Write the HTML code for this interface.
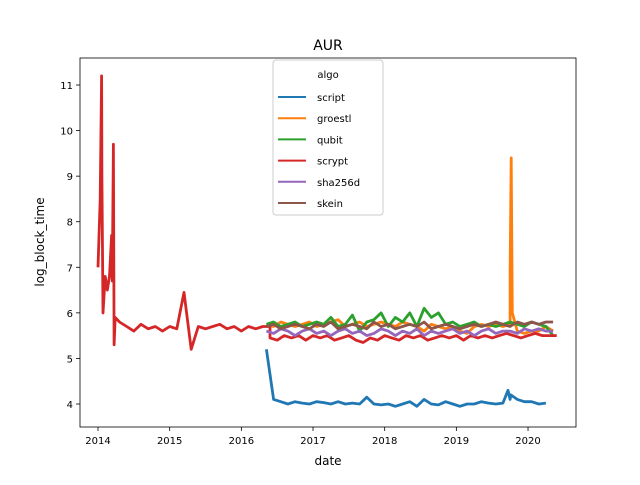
<!DOCTYPE html>
<html><head><meta charset="utf-8"><style>
body{margin:0;background:#fff;}
svg text{font-family:"DejaVu Sans","Liberation Sans",sans-serif;}
</style></head><body>
<svg id="chart" width="640" height="480" xmlns="http://www.w3.org/2000/svg">
<rect width="640" height="480" fill="#fff"/>
<text x="328" y="50" font-size="14" text-anchor="middle">AUR</text>
<g id="plot"></g>
<rect x="80" y="58" width="496" height="369" fill="none" stroke="#000" stroke-width="0.8"/>
<g id="axes"></g>
<text x="328" y="465" font-size="12" text-anchor="middle">date</text>
<text transform="translate(44,242) rotate(-90)" font-size="12" text-anchor="middle">log_block_time</text>
<g id="legend"></g>
</svg>
<script>
const xTicks=[2014,2015,2016,2017,2018,2019,2020];
const yTicks=[4,5,6,7,8,9,10,11];
const seriesNames=["script","groestl","qubit","scrypt","sha256d","skein"];
const seriesColors=["#1f77b4","#ff7f0e","#2ca02c","#d62728","#9467bd","#8c564b"];
const scryptEarlyDates=[2014.0,2014.03,2014.05,2014.055,2014.07,2014.1,2014.13,2014.16,2014.19,2014.2,2014.215,2014.225,2014.24,2014.3];
const scryptEarlyValues=[7.0,8.5,11.2,9.0,6.0,6.8,6.5,6.8,7.7,6.7,9.7,5.3,5.9,5.8];
const scryptMidStart=2014.4;
const scryptMidValues=[5.7,5.6,5.75,5.65,5.7,5.6,5.7,5.65,6.45,5.2,5.7,5.65,5.7,5.75,5.65,5.7,5.6,5.7,5.65,5.7,5.7];
const scryptLateStart=2016.4;
const scryptLateValues=[5.45,5.4,5.5,5.45,5.5,5.4,5.5,5.45,5.5,5.4,5.45,5.5,5.4,5.35,5.45,5.4,5.5,5.45,5.4,5.5,5.45,5.5,5.4,5.45,5.5,5.45,5.5,5.4,5.5,5.45,5.5,5.45,5.5,5.55,5.5,5.45,5.5,5.55,5.5,5.5,5.5];
const scriptStart=2016.35;
const scriptValues=[5.2,4.1,4.05,4.0,4.05,4.02,4.0,4.05,4.03,4.0,4.05,4.0,4.02,4.0,4.15,4.0,3.98,4.0,3.95,4.0,4.05,3.95,4.1,4.0,3.98,4.05,4.0,3.95,4.0,4.0,4.05,4.02,4.0,4.02,4.1,4.1,4.05,4.05,4.0,4.02];
const scriptSpikeDates=[2019.72,2019.76];
const scriptSpikeValues=[4.3,4.2];
const groestlStart=2016.35;
const groestlValues=[5.75,5.7,5.8,5.75,5.7,5.75,5.8,5.7,5.75,5.8,5.85,5.7,5.75,5.8,5.7,5.75,5.8,5.75,5.7,5.8,5.75,5.7,5.6,5.75,5.7,5.65,5.7,5.6,5.55,5.7,5.75,5.7,5.75,5.7,5.75,5.6,5.55,5.6,5.6,5.7,5.6];
const groestlSpikeDates=[2019.75,2019.765,2019.78];
const groestlSpikeValues=[6.9,9.4,6.0];
const qubitStart=2016.35;
const qubitValues=[5.75,5.8,5.7,5.75,5.8,5.7,5.75,5.8,5.75,5.9,5.7,5.75,5.95,5.6,5.8,5.85,6.0,5.7,5.9,5.8,6.0,5.7,6.1,5.9,6.0,5.75,5.8,5.7,5.75,5.8,5.7,5.75,5.7,5.75,5.8,5.75,5.7,5.8,5.75,5.7,5.5];
const sha256dStart=2016.35;
const sha256dValues=[5.6,5.55,5.65,5.6,5.5,5.6,5.65,5.55,5.6,5.5,5.6,5.65,5.55,5.6,5.5,5.55,5.65,5.6,5.5,5.6,5.55,5.65,5.5,5.6,5.55,5.6,5.65,5.55,5.6,5.5,5.6,5.65,5.55,5.6,5.6,5.55,5.65,5.6,5.65,5.6,5.6];
const skeinStart=2016.35;
const skeinValues=[5.7,5.75,5.65,5.7,5.75,5.7,5.65,5.75,5.7,5.8,5.65,5.7,5.75,5.7,5.65,5.8,5.7,5.75,5.65,5.7,5.75,5.7,5.8,5.65,5.7,5.75,5.7,5.65,5.7,5.75,5.7,5.75,5.8,5.75,5.7,5.8,5.75,5.8,5.75,5.8,5.8];
const STEP=0.1;

const X0=80,X1=576,Y0=58,Y1=427;
function xs(d){return 98+(d-2014)*71.67;}
function ys(v){return 404-(v-4)*45.57;}
const NS="http://www.w3.org/2000/svg";
function mk(tag,attrs,parent){const e=document.createElementNS(NS,tag);for(const k in attrs)e.setAttribute(k,attrs[k]);parent.appendChild(e);return e;}
const axes=document.getElementById('axes');
xTicks.forEach(t=>{const x=xs(t);
 const l=mk('line',{x1:x,x2:x,y1:Y1,y2:Y1+4,stroke:'#000','stroke-width':0.8},axes);
 
 
 const tx=mk('text',{x:x,y:Y1+17,'font-size':10,'text-anchor':'middle'},axes);tx.textContent=t;
 
 });
yTicks.forEach(t=>{const y=ys(t);
 const l=mk('line',{x1:X0-4,x2:X0,y1:y,y2:y,stroke:'#000','stroke-width':0.8},axes);
 
 
 const tx=mk('text',{x:X0-7,y:y+4,'font-size':10,'text-anchor':'end'},axes);tx.textContent=t;
 
 });
function seq(start,vals){return vals.map((v,i)=>[start+i*STEP,v]);}
function pairs(ds,vs){return ds.map((d,i)=>[d,vs[i]]);}
function srt(a){return a.sort((p,q)=>p[0]-q[0]);}
const pts={
 script:srt(seq(scriptStart,scriptValues).concat(pairs(scriptSpikeDates,scriptSpikeValues))),
 groestl:srt(seq(groestlStart,groestlValues).concat(pairs(groestlSpikeDates,groestlSpikeValues))),
 qubit:seq(qubitStart,qubitValues),
 scrypt:pairs(scryptEarlyDates,scryptEarlyValues).concat(seq(scryptMidStart,scryptMidValues)).concat(seq(scryptLateStart,scryptLateValues)),
 sha256d:seq(sha256dStart,sha256dValues),
 skein:seq(skeinStart,skeinValues)
};
const plot=document.getElementById('plot');
seriesNames.forEach((n,i)=>{
 const d=pts[n].map((p,j)=>(j?'L':'M')+xs(p[0]).toFixed(1)+','+ys(p[1]).toFixed(1)).join('');
 const p=mk('path',{d:d,fill:'none',stroke:seriesColors[i],'stroke-width':2.8,'stroke-linejoin':'round'},plot);
 
 
});
const lg=document.getElementById('legend');
mk('rect',{x:273,y:60,width:110,height:155,rx:3,fill:'#fff','fill-opacity':0.8,stroke:'#ccc'},lg);
const lt=mk('text',{x:328,y:78,'font-size':10,'text-anchor':'middle'},lg);lt.textContent='algo';


seriesNames.forEach((n,i)=>{const y=97+i*21.2;
 const g=mk('g',{},lg);
 
 
 mk('line',{x1:278,x2:306,y1:y,y2:y,stroke:seriesColors[i],'stroke-width':2},g);
 const t=mk('text',{x:317,y:y+4,'font-size':10},g);t.textContent=n;});
</script>
</body></html>
